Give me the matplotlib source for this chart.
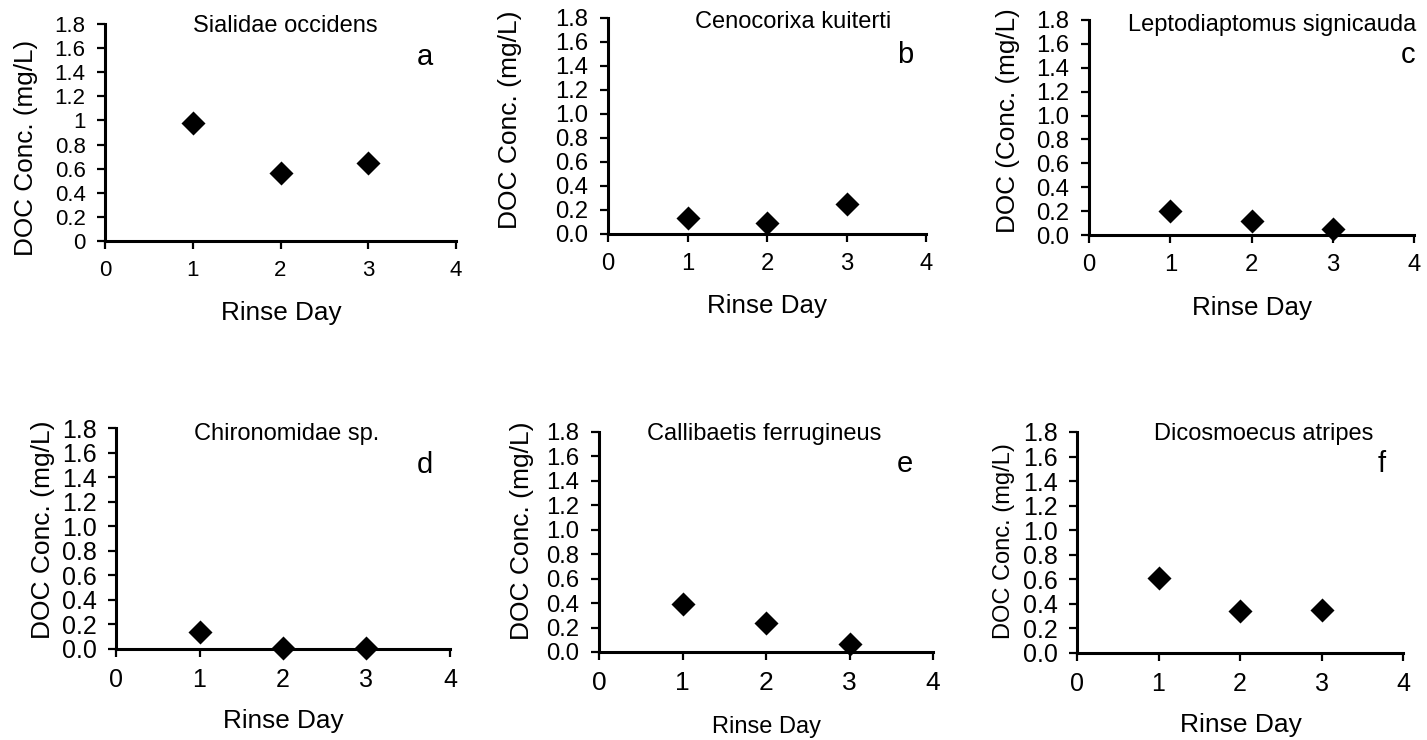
import matplotlib

matplotlib.use("Agg")
import matplotlib.pyplot as plt

W, H = 1427, 740
DPI = 100

plt.rcParams["font.family"] = ["Liberation Sans", "DejaVu Sans"]

# data
days = [1, 2, 3]
x_ticks = [0, 1, 2, 3, 4]
y_ticks = [0.0, 0.2, 0.4, 0.6, 0.8, 1.0, 1.2, 1.4, 1.6, 1.8]
y_labels_general = ["0", "0.2", "0.4", "0.6", "0.8", "1", "1.2", "1.4", "1.6", "1.8"]
y_labels_fixed = ["0.0", "0.2", "0.4", "0.6", "0.8", "1.0", "1.2", "1.4", "1.6", "1.8"]

sialidae = [0.98, 0.565, 0.65]
cenocorixa = [0.13, 0.09, 0.25]
leptodiaptomus = [0.20, 0.12, 0.05]
chironomidae = [0.135, 0.005, 0.01]
callibaetis = [0.39, 0.235, 0.065]
dicosmoecus = [0.61, 0.345, 0.35]

titles = ["Sialidae occidens", "Cenocorixa kuiterti", "Leptodiaptomus signicauda",
          "Chironomidae sp.", "Callibaetis ferrugineus", "Dicosmoecus atripes"]
letters = ["a", "b", "c", "d", "e", "f"]
ylabels = ["DOC Conc. (mg/L)", "DOC Conc. (mg/L)", "DOC (Conc. (mg/L)",
           "DOC Conc. (mg/L)", "DOC Conc. (mg/L)", "DOC Conc. (mg/L)"]
xlabel = "Rinse Day"
series = [sialidae, cenocorixa, leptodiaptomus, chironomidae, callibaetis, dicosmoecus]

# layout in pixels: axes box (left, right, top, bottom), title (x, baseline),
# letter (x, baseline), ylabel (baseline x, center y, size), xlabel (x, baseline, size)
layout = [
    dict(box=(105, 456, 24, 241), title=(285, 32), letter=(425, 65),
         ylab=(33, 148, 18.8), xlab=(281, 320, 18.8), yt=16, xt=16),
    dict(box=(608, 926, 18, 234), title=(793, 28), letter=(905, 63),
         ylab=(517, 120, 19), xlab=(767, 313, 18.7), yt=17.2, xt=17.2),
    dict(box=(1089, 1414, 20, 235), title=(1272, 31), letter=(1408, 63),
         ylab=(1015, 121, 18.8), xlab=(1252, 315, 18.7), yt=17.2, xt=17.2),
    dict(box=(116, 450, 428, 649), title=(287, 440), letter=(425, 473),
         ylab=(50, 530, 19), xlab=(283, 728, 18.8), yt=18, xt=18),
    dict(box=(599, 933, 432, 652), title=(764, 440), letter=(905, 472),
         ylab=(529, 531, 19), xlab=(766, 733, 17), yt=17.2, xt=19),
    dict(box=(1077, 1403, 432, 653), title=(1264, 440), letter=(1382, 472),
         ylab=(1010, 541, 17), xlab=(1241, 732, 19), yt=18, xt=18),
]


def fx(px):
    return px / W


def fy(py):
    return 1 - py / H


fig = plt.figure(figsize=(W / DPI, H / DPI), dpi=DPI)

for i, (vals, lay) in enumerate(zip(series, layout)):
    l, r, t, b = lay["box"]
    ax = fig.add_axes([fx(l), fy(b), (r - l) / W, (b - t) / H])
    ax.scatter(days, vals, marker="D", s=150, color="black", zorder=5,
               clip_on=False, linewidths=0)
    ax.set_xlim(0, 4)
    ax.set_ylim(0, 1.8)
    ax.set_xticks(x_ticks)
    ax.set_yticks(y_ticks)
    ax.set_yticklabels(y_labels_general if i == 0 else y_labels_fixed)
    for side in ("top", "right"):
        ax.spines[side].set_visible(False)
    for side in ("left", "bottom"):
        ax.spines[side].set_linewidth(2.2)
        ax.spines[side].set_capstyle("projecting")
    ax.tick_params(axis="y", direction="out", length=6, width=1.6,
                   labelsize=lay["yt"], pad=8)
    ax.tick_params(axis="x", direction="out", length=5.5, width=1.6,
                   labelsize=lay["xt"], pad=8)

    fig.text(fx(lay["title"][0]), fy(lay["title"][1]), titles[i],
             ha="center", va="baseline", fontsize=17)
    fig.text(fx(lay["letter"][0]), fy(lay["letter"][1]), letters[i],
             ha="center", va="baseline", fontsize=21)
    yx, yc, ys = lay["ylab"]
    fig.text(fx(yx), fy(yc), ylabels[i], rotation=90, rotation_mode="anchor",
             ha="center", va="baseline", fontsize=ys)
    xx, xb, xs = lay["xlab"]
    fig.text(fx(xx), fy(xb), xlabel, ha="center", va="baseline", fontsize=xs)

fig.savefig("out.png", dpi=DPI)
